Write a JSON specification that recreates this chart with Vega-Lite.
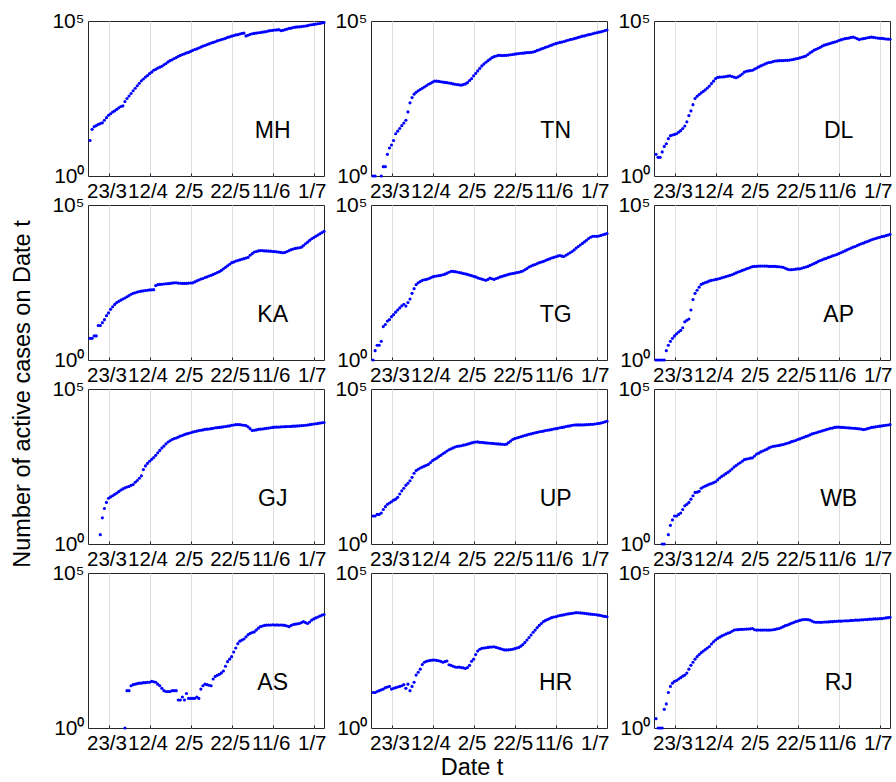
{
"$schema":"https://vega.github.io/schema/vega-lite/v6.json",
"padding":{"left":10,"top":8,"right":0,"bottom":2},
"background":"white",
"title":{"text":"Number of active cases on Date t","orient":"left","anchor":"middle","fontSize":23.5,"font":"Arial","fontWeight":"normal","color":"black","offset":17},
"data":{"values":[
{"d":"2020/03/14","MH":14,"TN":1,"DL":5,"KA":5,"TG":1,"AP":1,"GJ":null,"UP":8,"WB":null,"AS":null,"HR":14,"RJ":2},
{"d":"2020/03/15","MH":32,"TN":1,"DL":4,"KA":5,"TG":2,"AP":1,"GJ":null,"UP":8,"WB":null,"AS":null,"HR":14,"RJ":1},
{"d":"2020/03/16","MH":39,"TN":null,"DL":4,"KA":6,"TG":3,"AP":1,"GJ":null,"UP":9,"WB":null,"AS":null,"HR":15,"RJ":1},
{"d":"2020/03/17","MH":42,"TN":null,"DL":6,"KA":6,"TG":3,"AP":1,"GJ":null,"UP":9,"WB":1,"AS":null,"HR":16,"RJ":1},
{"d":"2020/03/18","MH":46,"TN":1,"DL":9,"KA":13,"TG":4,"AP":1,"GJ":null,"UP":10,"WB":1,"AS":null,"HR":17,"RJ":4},
{"d":"2020/03/19","MH":49,"TN":2,"DL":11,"KA":13,"TG":12,"AP":2,"GJ":2,"UP":13,"WB":null,"AS":null,"HR":18,"RJ":6},
{"d":"2020/03/20","MH":52,"TN":2,"DL":16,"KA":16,"TG":14,"AP":3,"GJ":7,"UP":16,"WB":2,"AS":null,"HR":20,"RJ":14},
{"d":"2020/03/21","MH":63,"TN":5,"DL":20,"KA":20,"TG":18,"AP":4,"GJ":14,"UP":19,"WB":4,"AS":null,"HR":21,"RJ":22},
{"d":"2020/03/22","MH":76,"TN":8,"DL":21,"KA":27,"TG":20,"AP":5,"GJ":22,"UP":21,"WB":6,"AS":null,"HR":22,"RJ":28},
{"d":"2020/03/23","MH":91,"TN":10,"DL":22,"KA":33,"TG":25,"AP":6,"GJ":30,"UP":23,"WB":8,"AS":null,"HR":18,"RJ":32},
{"d":"2020/03/24","MH":102,"TN":14,"DL":23,"KA":43,"TG":29,"AP":7,"GJ":33,"UP":26,"WB":8,"AS":null,"HR":19,"RJ":34},
{"d":"2020/03/25","MH":115,"TN":23,"DL":26,"KA":52,"TG":35,"AP":8,"GJ":36,"UP":28,"WB":9,"AS":null,"HR":20,"RJ":38},
{"d":"2020/03/26","MH":126,"TN":28,"DL":29,"KA":62,"TG":41,"AP":9,"GJ":40,"UP":32,"WB":10,"AS":null,"HR":21,"RJ":42},
{"d":"2020/03/27","MH":141,"TN":34,"DL":34,"KA":71,"TG":48,"AP":11,"GJ":44,"UP":41,"WB":13,"AS":null,"HR":22,"RJ":47},
{"d":"2020/03/28","MH":158,"TN":42,"DL":41,"KA":78,"TG":56,"AP":17,"GJ":49,"UP":52,"WB":17,"AS":null,"HR":23,"RJ":51},
{"d":"2020/03/29","MH":174,"TN":51,"DL":56,"KA":85,"TG":63,"AP":19,"GJ":55,"UP":63,"WB":19,"AS":null,"HR":25,"RJ":59},
{"d":"2020/03/30","MH":182,"TN":63,"DL":89,"KA":93,"TG":55,"AP":21,"GJ":60,"UP":78,"WB":22,"AS":null,"HR":19,"RJ":79},
{"d":"2020/03/31","MH":251,"TN":117,"DL":126,"KA":100,"TG":71,"AP":41,"GJ":65,"UP":91,"WB":28,"AS":1,"HR":26,"RJ":105},
{"d":"2020/04/01","MH":316,"TN":229,"DL":200,"KA":110,"TG":93,"AP":89,"GJ":69,"UP":110,"WB":36,"AS":16,"HR":16,"RJ":132},
{"d":"2020/04/02","MH":380,"TN":339,"DL":316,"KA":120,"TG":141,"AP":141,"GJ":72,"UP":141,"WB":46,"AS":16,"HR":22,"RJ":166},
{"d":"2020/04/03","MH":457,"TN":437,"DL":372,"KA":132,"TG":200,"AP":178,"GJ":78,"UP":191,"WB":47,"AS":23,"HR":30,"RJ":200},
{"d":"2020/04/04","MH":562,"TN":501,"DL":427,"KA":141,"TG":269,"AP":224,"GJ":83,"UP":234,"WB":50,"AS":25,"HR":51,"RJ":234},
{"d":"2020/04/05","MH":676,"TN":562,"DL":479,"KA":148,"TG":309,"AP":275,"GJ":98,"UP":257,"WB":63,"AS":26,"HR":63,"RJ":269},
{"d":"2020/04/06","MH":813,"TN":617,"DL":537,"KA":155,"TG":339,"AP":295,"GJ":112,"UP":282,"WB":69,"AS":27,"HR":79,"RJ":302},
{"d":"2020/04/07","MH":977,"TN":676,"DL":603,"KA":162,"TG":372,"AP":316,"GJ":132,"UP":302,"WB":74,"AS":28,"HR":112,"RJ":339},
{"d":"2020/04/08","MH":1175,"TN":741,"DL":692,"KA":166,"TG":389,"AP":331,"GJ":158,"UP":324,"WB":79,"AS":28,"HR":132,"RJ":380},
{"d":"2020/04/09","MH":1349,"TN":813,"DL":794,"KA":170,"TG":398,"AP":355,"GJ":251,"UP":347,"WB":85,"AS":29,"HR":141,"RJ":427},
{"d":"2020/04/10","MH":1549,"TN":912,"DL":955,"KA":174,"TG":417,"AP":372,"GJ":331,"UP":372,"WB":89,"AS":29,"HR":148,"RJ":513},
{"d":"2020/04/11","MH":1738,"TN":977,"DL":1148,"KA":178,"TG":447,"AP":380,"GJ":398,"UP":427,"WB":95,"AS":30,"HR":151,"RJ":603},
{"d":"2020/04/12","MH":1995,"TN":1072,"DL":1380,"KA":182,"TG":479,"AP":398,"GJ":468,"UP":490,"WB":102,"AS":30,"HR":155,"RJ":692},
{"d":"2020/04/13","MH":2239,"TN":1148,"DL":1514,"KA":183,"TG":501,"AP":407,"GJ":537,"UP":537,"WB":117,"AS":32,"HR":156,"RJ":776},
{"d":"2020/04/14","MH":2570,"TN":1150,"DL":1549,"KA":186,"TG":513,"AP":427,"GJ":617,"UP":589,"WB":135,"AS":31,"HR":151,"RJ":851},
{"d":"2020/04/15","MH":2754,"TN":1122,"DL":1560,"KA":251,"TG":525,"AP":447,"GJ":724,"UP":661,"WB":151,"AS":30,"HR":148,"RJ":933},
{"d":"2020/04/16","MH":3020,"TN":1096,"DL":1585,"KA":269,"TG":537,"AP":468,"GJ":871,"UP":724,"WB":166,"AS":26,"HR":141,"RJ":1000},
{"d":"2020/04/17","MH":3236,"TN":1072,"DL":1622,"KA":275,"TG":562,"AP":490,"GJ":1047,"UP":813,"WB":186,"AS":23,"HR":132,"RJ":1072},
{"d":"2020/04/18","MH":3467,"TN":1047,"DL":1660,"KA":277,"TG":589,"AP":513,"GJ":1259,"UP":891,"WB":204,"AS":19,"HR":138,"RJ":1148},
{"d":"2020/04/19","MH":3890,"TN":1023,"DL":1698,"KA":282,"TG":631,"AP":537,"GJ":1445,"UP":1000,"WB":229,"AS":16,"HR":145,"RJ":1202},
{"d":"2020/04/20","MH":4266,"TN":1000,"DL":1622,"KA":288,"TG":676,"AP":562,"GJ":1698,"UP":1096,"WB":263,"AS":15,"HR":110,"RJ":1318},
{"d":"2020/04/21","MH":4786,"TN":977,"DL":1549,"KA":290,"TG":724,"AP":603,"GJ":1950,"UP":1175,"WB":302,"AS":15,"HR":105,"RJ":1445},
{"d":"2020/04/22","MH":5248,"TN":933,"DL":1479,"KA":295,"TG":720,"AP":646,"GJ":2138,"UP":1259,"WB":339,"AS":15,"HR":98,"RJ":1479},
{"d":"2020/04/23","MH":5623,"TN":912,"DL":1585,"KA":302,"TG":708,"AP":692,"GJ":2344,"UP":1349,"WB":380,"AS":16,"HR":93,"RJ":1490},
{"d":"2020/04/24","MH":6166,"TN":891,"DL":1738,"KA":309,"TG":692,"AP":724,"GJ":2512,"UP":1413,"WB":417,"AS":16,"HR":91,"RJ":1514},
{"d":"2020/04/25","MH":6607,"TN":871,"DL":1950,"KA":310,"TG":661,"AP":776,"GJ":2630,"UP":1445,"WB":468,"AS":16,"HR":92,"RJ":1520},
{"d":"2020/04/26","MH":7244,"TN":851,"DL":2239,"KA":302,"TG":646,"AP":813,"GJ":2818,"UP":1479,"WB":525,"AS":8,"HR":89,"RJ":1530},
{"d":"2020/04/27","MH":7762,"TN":891,"DL":2399,"KA":300,"TG":617,"AP":871,"GJ":3020,"UP":1549,"WB":550,"AS":8,"HR":87,"RJ":1549},
{"d":"2020/04/28","MH":8318,"TN":933,"DL":2455,"KA":295,"TG":603,"AP":912,"GJ":3162,"UP":1585,"WB":562,"AS":10,"HR":83,"RJ":1560},
{"d":"2020/04/29","MH":8710,"TN":1023,"DL":2512,"KA":295,"TG":575,"AP":977,"GJ":3388,"UP":1660,"WB":589,"AS":8,"HR":89,"RJ":1585},
{"d":"2020/04/30","MH":9333,"TN":1202,"DL":2570,"KA":296,"TG":550,"AP":1023,"GJ":3548,"UP":1738,"WB":603,"AS":13,"HR":105,"RJ":1622},
{"d":"2020/05/01","MH":9772,"TN":1380,"DL":2818,"KA":302,"TG":525,"AP":1047,"GJ":3715,"UP":1820,"WB":692,"AS":9,"HR":141,"RJ":1479},
{"d":"2020/05/02","MH":10470,"TN":1698,"DL":3020,"KA":304,"TG":501,"AP":1050,"GJ":3890,"UP":1905,"WB":794,"AS":9,"HR":166,"RJ":1445},
{"d":"2020/05/03","MH":11220,"TN":2042,"DL":3311,"KA":309,"TG":479,"AP":1072,"GJ":4074,"UP":1950,"WB":851,"AS":9,"HR":234,"RJ":1450},
{"d":"2020/05/04","MH":12020,"TN":2455,"DL":3548,"KA":331,"TG":447,"AP":1070,"GJ":4266,"UP":1960,"WB":933,"AS":9,"HR":302,"RJ":1440},
{"d":"2020/05/05","MH":12590,"TN":2951,"DL":3802,"KA":355,"TG":427,"AP":1075,"GJ":4365,"UP":1905,"WB":1000,"AS":10,"HR":347,"RJ":1445},
{"d":"2020/05/06","MH":13490,"TN":3548,"DL":4074,"KA":380,"TG":407,"AP":1072,"GJ":4571,"UP":1900,"WB":1072,"AS":9,"HR":372,"RJ":1450},
{"d":"2020/05/07","MH":14450,"TN":4074,"DL":4365,"KA":407,"TG":389,"AP":1070,"GJ":4677,"UP":1862,"WB":1148,"AS":18,"HR":380,"RJ":1440},
{"d":"2020/05/08","MH":15490,"TN":4677,"DL":4571,"KA":427,"TG":372,"AP":1047,"GJ":4786,"UP":1820,"WB":1259,"AS":23,"HR":389,"RJ":1445},
{"d":"2020/05/09","MH":16220,"TN":5248,"DL":4677,"KA":457,"TG":398,"AP":1050,"GJ":5012,"UP":1810,"WB":1349,"AS":26,"HR":398,"RJ":1450},
{"d":"2020/05/10","MH":17380,"TN":5888,"DL":4898,"KA":479,"TG":437,"AP":1045,"GJ":5050,"UP":1778,"WB":1413,"AS":25,"HR":407,"RJ":1479},
{"d":"2020/05/11","MH":18200,"TN":6607,"DL":5129,"KA":513,"TG":417,"AP":1047,"GJ":5129,"UP":1770,"WB":1445,"AS":24,"HR":410,"RJ":1514},
{"d":"2020/05/12","MH":19500,"TN":7079,"DL":5150,"KA":537,"TG":398,"AP":1023,"GJ":5248,"UP":1738,"WB":1479,"AS":23,"HR":417,"RJ":1585},
{"d":"2020/05/13","MH":20420,"TN":7413,"DL":5248,"KA":575,"TG":427,"AP":1020,"GJ":5370,"UP":1698,"WB":1514,"AS":38,"HR":398,"RJ":1622},
{"d":"2020/05/14","MH":21380,"TN":7762,"DL":5270,"KA":617,"TG":447,"AP":1000,"GJ":5623,"UP":1690,"WB":1585,"AS":46,"HR":380,"RJ":1738},
{"d":"2020/05/15","MH":22910,"TN":7800,"DL":5300,"KA":661,"TG":479,"AP":977,"GJ":5650,"UP":1660,"WB":1622,"AS":50,"HR":363,"RJ":1862},
{"d":"2020/05/16","MH":23990,"TN":7670,"DL":5370,"KA":708,"TG":501,"AP":912,"GJ":5754,"UP":1655,"WB":1698,"AS":54,"HR":347,"RJ":1995},
{"d":"2020/05/17","MH":25120,"TN":7762,"DL":5400,"KA":776,"TG":525,"AP":851,"GJ":5888,"UP":1622,"WB":1778,"AS":60,"HR":331,"RJ":2089},
{"d":"2020/05/18","MH":26300,"TN":7800,"DL":5495,"KA":871,"TG":550,"AP":813,"GJ":6026,"UP":1660,"WB":1862,"AS":69,"HR":330,"RJ":2239},
{"d":"2020/05/19","MH":27540,"TN":7943,"DL":5623,"KA":977,"TG":575,"AP":820,"GJ":6166,"UP":1862,"WB":1995,"AS":98,"HR":333,"RJ":2399},
{"d":"2020/05/20","MH":29510,"TN":8128,"DL":5754,"KA":1096,"TG":603,"AP":832,"GJ":6310,"UP":2089,"WB":2089,"AS":138,"HR":339,"RJ":2512},
{"d":"2020/05/21","MH":30900,"TN":8318,"DL":6026,"KA":1230,"TG":617,"AP":851,"GJ":6457,"UP":2344,"WB":2188,"AS":166,"HR":347,"RJ":2692},
{"d":"2020/05/22","MH":32360,"TN":8511,"DL":6166,"KA":1380,"TG":631,"AP":871,"GJ":6761,"UP":2512,"WB":2344,"AS":200,"HR":363,"RJ":2818},
{"d":"2020/05/23","MH":33880,"TN":8710,"DL":6457,"KA":1445,"TG":661,"AP":875,"GJ":6918,"UP":2630,"WB":2455,"AS":282,"HR":380,"RJ":2951},
{"d":"2020/05/24","MH":35480,"TN":8913,"DL":6761,"KA":1549,"TG":676,"AP":912,"GJ":7079,"UP":2754,"WB":2630,"AS":380,"HR":398,"RJ":3090},
{"d":"2020/05/25","MH":36310,"TN":9120,"DL":7079,"KA":1622,"TG":708,"AP":955,"GJ":7100,"UP":2884,"WB":2754,"AS":525,"HR":437,"RJ":3162},
{"d":"2020/05/26","MH":38020,"TN":9150,"DL":7413,"KA":1698,"TG":741,"AP":1000,"GJ":7079,"UP":3020,"WB":2951,"AS":631,"HR":490,"RJ":3170},
{"d":"2020/05/27","MH":39810,"TN":9333,"DL":8318,"KA":1778,"TG":813,"AP":1047,"GJ":6918,"UP":3162,"WB":3090,"AS":692,"HR":575,"RJ":3150},
{"d":"2020/05/28","MH":40740,"TN":9550,"DL":9333,"KA":1862,"TG":891,"AP":1122,"GJ":6761,"UP":3311,"WB":3311,"AS":741,"HR":692,"RJ":3020},
{"d":"2020/05/29","MH":33110,"TN":9560,"DL":10230,"KA":1950,"TG":1000,"AP":1202,"GJ":6607,"UP":3467,"WB":3548,"AS":871,"HR":832,"RJ":2818},
{"d":"2020/05/30","MH":34670,"TN":9772,"DL":11480,"KA":2042,"TG":1072,"AP":1288,"GJ":6026,"UP":3548,"WB":3715,"AS":1023,"HR":1000,"RJ":2630},
{"d":"2020/05/31","MH":37150,"TN":10000,"DL":12300,"KA":2399,"TG":1148,"AP":1380,"GJ":5248,"UP":3715,"WB":3890,"AS":1122,"HR":1230,"RJ":2570},
{"d":"2020/06/01","MH":38900,"TN":10470,"DL":13180,"KA":2692,"TG":1202,"AP":1514,"GJ":4571,"UP":3890,"WB":4074,"AS":1202,"HR":1445,"RJ":2580},
{"d":"2020/06/02","MH":39810,"TN":11220,"DL":14130,"KA":3020,"TG":1288,"AP":1622,"GJ":4677,"UP":3981,"WB":4266,"AS":1259,"HR":1738,"RJ":2560},
{"d":"2020/06/03","MH":40740,"TN":11750,"DL":15490,"KA":3162,"TG":1380,"AP":1698,"GJ":4786,"UP":4169,"WB":4467,"AS":1445,"HR":2042,"RJ":2570},
{"d":"2020/06/04","MH":41690,"TN":12590,"DL":16600,"KA":3311,"TG":1445,"AP":1820,"GJ":5012,"UP":4266,"WB":4677,"AS":1660,"HR":2344,"RJ":2630},
{"d":"2020/06/05","MH":42660,"TN":13180,"DL":17380,"KA":3388,"TG":1514,"AP":1905,"GJ":5050,"UP":4365,"WB":4898,"AS":1862,"HR":2692,"RJ":2620},
{"d":"2020/06/06","MH":43650,"TN":14130,"DL":18200,"KA":3380,"TG":1622,"AP":2042,"GJ":5129,"UP":4571,"WB":5129,"AS":1950,"HR":2951,"RJ":2640},
{"d":"2020/06/07","MH":44670,"TN":14790,"DL":19050,"KA":3311,"TG":1738,"AP":2138,"GJ":5248,"UP":4677,"WB":5370,"AS":2042,"HR":3162,"RJ":2692},
{"d":"2020/06/08","MH":45710,"TN":15850,"DL":19950,"KA":3300,"TG":1820,"AP":2291,"GJ":5370,"UP":4786,"WB":5495,"AS":2089,"HR":3388,"RJ":2700},
{"d":"2020/06/09","MH":47860,"TN":16600,"DL":20890,"KA":3236,"TG":1950,"AP":2399,"GJ":5495,"UP":4898,"WB":5754,"AS":2100,"HR":3631,"RJ":2754},
{"d":"2020/06/10","MH":48980,"TN":17780,"DL":21880,"KA":3240,"TG":2042,"AP":2512,"GJ":5623,"UP":5129,"WB":5888,"AS":2090,"HR":3802,"RJ":2760},
{"d":"2020/06/11","MH":50120,"TN":18620,"DL":23440,"KA":3162,"TG":2138,"AP":2692,"GJ":5754,"UP":5248,"WB":5880,"AS":2138,"HR":3890,"RJ":2818},
{"d":"2020/06/12","MH":51290,"TN":19500,"DL":24550,"KA":3150,"TG":2239,"AP":2884,"GJ":5888,"UP":5370,"WB":5800,"AS":2089,"HR":4074,"RJ":2800},
{"d":"2020/06/13","MH":51500,"TN":20420,"DL":25700,"KA":3090,"TG":2344,"AP":3090,"GJ":5900,"UP":5623,"WB":5754,"AS":2120,"HR":4266,"RJ":2830},
{"d":"2020/06/14","MH":52480,"TN":20890,"DL":26920,"KA":3020,"TG":2239,"AP":3311,"GJ":5920,"UP":5754,"WB":5680,"AS":2089,"HR":4365,"RJ":2884},
{"d":"2020/06/15","MH":48980,"TN":21880,"DL":27540,"KA":2951,"TG":2188,"AP":3548,"GJ":6026,"UP":5888,"WB":5623,"AS":2100,"HR":4467,"RJ":2870},
{"d":"2020/06/16","MH":50120,"TN":22910,"DL":28180,"KA":2884,"TG":2399,"AP":3802,"GJ":6050,"UP":6166,"WB":5550,"AS":2089,"HR":4677,"RJ":2890},
{"d":"2020/06/17","MH":52480,"TN":23990,"DL":29510,"KA":2951,"TG":2630,"AP":4074,"GJ":6080,"UP":6310,"WB":5495,"AS":2042,"HR":4786,"RJ":2951},
{"d":"2020/06/18","MH":54950,"TN":25120,"DL":30200,"KA":3162,"TG":2884,"AP":4365,"GJ":6166,"UP":6457,"WB":5430,"AS":1950,"HR":4898,"RJ":2940},
{"d":"2020/06/19","MH":57540,"TN":25700,"DL":28840,"KA":3388,"TG":3162,"AP":4571,"GJ":6180,"UP":6761,"WB":5370,"AS":1862,"HR":5012,"RJ":3020},
{"d":"2020/06/20","MH":58880,"TN":26920,"DL":26920,"KA":3631,"TG":3548,"AP":4898,"GJ":6200,"UP":6918,"WB":5300,"AS":2042,"HR":5129,"RJ":3010},
{"d":"2020/06/21","MH":61660,"TN":28180,"DL":25120,"KA":3802,"TG":4074,"AP":5248,"GJ":6310,"UP":6930,"WB":5200,"AS":2188,"HR":5248,"RJ":3030},
{"d":"2020/06/22","MH":63100,"TN":29510,"DL":26300,"KA":3981,"TG":4571,"AP":5623,"GJ":6330,"UP":6940,"WB":5100,"AS":2239,"HR":5230,"RJ":3090},
{"d":"2020/06/23","MH":64570,"TN":30900,"DL":26920,"KA":4074,"TG":5129,"AP":5888,"GJ":6457,"UP":6950,"WB":4898,"AS":2291,"HR":5150,"RJ":3080},
{"d":"2020/06/24","MH":64800,"TN":32360,"DL":27540,"KA":4169,"TG":5754,"AP":6310,"GJ":6480,"UP":6960,"WB":5012,"AS":2344,"HR":5100,"RJ":3162},
{"d":"2020/06/25","MH":66070,"TN":33110,"DL":28840,"KA":4365,"TG":6457,"AP":6607,"GJ":6607,"UP":6970,"WB":5248,"AS":2512,"HR":5012,"RJ":3150},
{"d":"2020/06/26","MH":67610,"TN":34670,"DL":29510,"KA":4898,"TG":7244,"AP":7079,"GJ":6640,"UP":7079,"WB":5495,"AS":2692,"HR":4898,"RJ":3236},
{"d":"2020/06/27","MH":69180,"TN":36310,"DL":30200,"KA":5623,"TG":8318,"AP":7586,"GJ":6761,"UP":7100,"WB":5754,"AS":2512,"HR":4786,"RJ":3230},
{"d":"2020/06/28","MH":70790,"TN":37150,"DL":29510,"KA":6310,"TG":9120,"AP":7943,"GJ":6918,"UP":7244,"WB":5888,"AS":2344,"HR":4700,"RJ":3311},
{"d":"2020/06/29","MH":74130,"TN":38900,"DL":28840,"KA":7244,"TG":9772,"AP":8318,"GJ":7079,"UP":7260,"WB":6026,"AS":2630,"HR":4650,"RJ":3300},
{"d":"2020/06/30","MH":75860,"TN":40740,"DL":28180,"KA":8128,"TG":9800,"AP":8710,"GJ":7244,"UP":7413,"WB":6166,"AS":3020,"HR":4571,"RJ":3320},
{"d":"2020/07/01","MH":77620,"TN":41690,"DL":27540,"KA":8913,"TG":9750,"AP":9120,"GJ":7413,"UP":7586,"WB":6310,"AS":3311,"HR":4470,"RJ":3388},
{"d":"2020/07/02","MH":79430,"TN":43650,"DL":27400,"KA":9772,"TG":10000,"AP":9550,"GJ":7586,"UP":7762,"WB":6457,"AS":3548,"HR":4365,"RJ":3380},
{"d":"2020/07/03","MH":81280,"TN":44670,"DL":26920,"KA":10720,"TG":10470,"AP":9772,"GJ":7762,"UP":7943,"WB":6607,"AS":3802,"HR":4266,"RJ":3467},
{"d":"2020/07/04","MH":83180,"TN":46770,"DL":26300,"KA":11750,"TG":10960,"AP":10230,"GJ":7943,"UP":8318,"WB":6761,"AS":4074,"HR":4074,"RJ":3548},
{"d":"2020/07/05","MH":87100,"TN":48980,"DL":26100,"KA":12880,"TG":11480,"AP":10720,"GJ":8128,"UP":8710,"WB":6918,"AS":4365,"HR":3981,"RJ":3631},
{"d":"2020/07/06","MH":89130,"TN":51290,"DL":25700,"KA":14130,"TG":12020,"AP":11220,"GJ":8318,"UP":9120,"WB":7079,"AS":4571,"HR":3890,"RJ":3715}
]},
"transform":[
{"fold":["MH","TN","DL","KA","TG","AP","GJ","UP","WB","AS","HR","RJ"],"as":["s","v"]},
{"filter":"isValid(datum.v) && datum.v > 0"}
],
"facet":{"field":"s","type":"nominal","sort":["MH","TN","DL","KA","TG","AP","GJ","UP","WB","AS","HR","RJ"],
 "header":{"labels":false,"labelExpr":"''","labelFontSize":1,"labelPadding":0,"title":"Date t","titleOrient":"bottom","titleFontSize":23.5,"titleFont":"Arial","titleFontWeight":"normal","titleColor":"black","titlePadding":28}},
"columns":3,
"bounds":"flush",
"spacing":{"row":29,"column":47},
"resolve":{"axis":{"x":"independent","y":"independent"}},
"spec":{
 "width":236,"height":155,
 "layer":[
  {"mark":{"type":"point","filled":true,"size":10,"color":"#0000ff","opacity":1,"strokeWidth":0,"shape":"circle"},
   "encoding":{
    "x":{"field":"d","type":"temporal",
     "scale":{"domain":[{"year":2020,"month":3,"date":13},{"year":2020,"month":7,"date":6}]},
     "axis":{"title":null,
      "values":[{"year":2020,"month":3,"date":23},{"year":2020,"month":4,"date":2},{"year":2020,"month":4,"date":12},{"year":2020,"month":4,"date":22},{"year":2020,"month":5,"date":2},{"year":2020,"month":5,"date":12},{"year":2020,"month":5,"date":22},{"year":2020,"month":6,"date":1},{"year":2020,"month":6,"date":11},{"year":2020,"month":6,"date":21},{"year":2020,"month":7,"date":1}],
      "labelExpr":"indexof(['23/3','12/4','2/5','22/5','11/6','1/7'], timeFormat(datum.value, '%-d/%-m')) >= 0 ? timeFormat(datum.value, '%-d/%-m') : ''",
      "grid":true,"gridColor":"#dedede","gridWidth":1,
      "domain":false,"ticks":true,"tickSize":-3,"tickColor":"#262626",
      "labelFont":"Arial","labelFontSize":20.5,"labelColor":"black","labelPadding":8,"labelOffset":-2,
      "labelOverlap":false,"labelFlush":false,"labelBound":false}},
    "y":{"field":"v","type":"quantitative",
     "scale":{"type":"log","domain":[1,100000],"nice":false},
     "axis":{"title":null,"values":[1,100000],
      "labelExpr":"datum.value < 10 ? '10⁰' : '10⁵'",
      "grid":false,"domain":false,"ticks":false,
      "labelFont":"Arial","labelFontSize":21,"labelColor":"black","labelPadding":4,
      "labelOverlap":false,"labelFlush":false,"labelBound":false}}
   }},
  {"transform":[{"aggregate":[{"op":"count","as":"n"}],"groupby":["s"]}],
   "mark":{"type":"text","font":"Arial","fontSize":23,"align":"center","baseline":"alphabetic","color":"black"},
   "encoding":{
    "x":{"datum":{"year":2020,"month":6,"date":11},"type":"temporal"},
    "y":{"datum":17,"type":"quantitative"},
    "text":{"field":"s","type":"nominal"}}}
 ]
},
"config":{"view":{"stroke":"#262626","strokeWidth":1},"font":"Arial"}
}
